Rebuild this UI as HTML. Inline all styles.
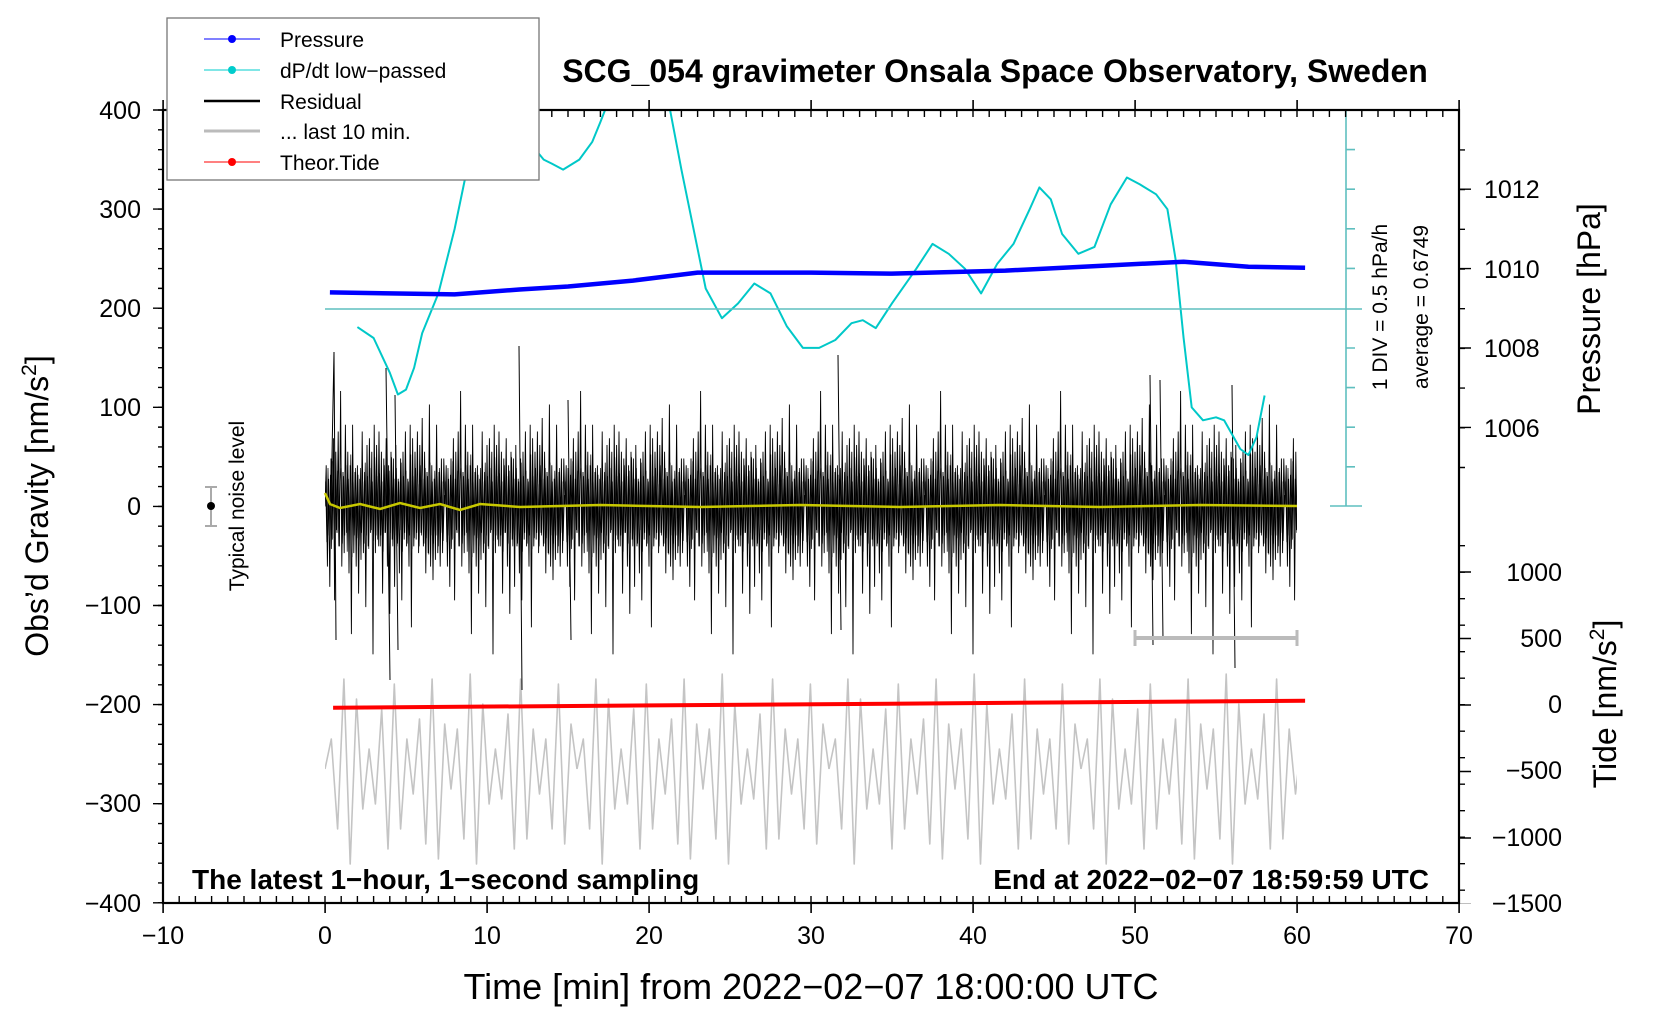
<!DOCTYPE html>
<html><head><meta charset="utf-8"><style>
html,body{margin:0;padding:0;background:#fff}
svg{display:block;font-family:"Liberation Sans",sans-serif}
</style></head><body>
<svg width="1660" height="1020" viewBox="0 0 1660 1020" xmlns="http://www.w3.org/2000/svg">
<defs>
<clipPath id="c"><rect x="163" y="110" width="1296" height="793"/></clipPath>
<pattern id="noise" patternUnits="userSpaceOnUse" x="325" y="348" width="120" height="317" patternTransform="matrix(1 0 0 1.35 0 -177.3)">
<polyline fill="none" stroke="#000" stroke-width="0.9" points="0,158.5 1.2,128 2.4,203 3.6,138 4.8,218 6,123 7.2,183 8.4,108 9.6,228 10.8,118 12,178 13.2,103 14.4,188 15.6,73 16.8,203 18,133 19.2,193 20.4,98 21.6,178 22.8,118 24,208 25.2,128 26.4,253 27.6,98 28.8,193 30,133 31.2,203 32.4,128 33.6,223 34.8,138 36,198 37.2,103 38.4,193 39.6,133 40.8,233 42,113 43.2,188 44.4,108 45.6,178 46.8,118 48,268 49.2,98 50.4,193 51.6,113 52.8,183 54,103 55.2,188 56.4,118 57.6,223 58.8,123 60,178 61.2,108 62.4,203 63.6,128 64.8,238 66,118 67.2,183 68.4,123 69.6,218 70.8,113 72,188 73.2,138 74.4,208 75.6,123 76.8,228 78,118 79.2,183 80.4,103 81.6,188 82.8,138 84,203 85.2,98 86.4,248 87.6,108 88.8,188 90,118 91.2,183 92.4,103 93.6,193 94.8,113 96,178 97.2,93 98.4,188 99.6,118 100.8,208 102,133 103.2,193 104.4,83 105.6,203 106.8,128 108,213 109.2,138 110.4,198 111.6,98 112.8,193 114,133 115.2,203 116.4,123 117.6,193 118.8,123 120,158.5"/>
<polyline fill="none" stroke="#000" stroke-width="0.7" points="0.6,140 1.8,185 3,130 4.2,180 5.4,135 6.6,190 7.8,125 9,182 10.2,138 11.4,176 12.6,132 13.8,188 15,140 16.2,130 17.4,186 18.6,136 19.8,180 21,128 22.2,192 23.4,138 24.6,176 25.8,120 27,196 28.2,140 29.4,180 30.6,130 31.8,182 33,135 34.2,188 35.4,130 36.6,178 37.8,140 39,186 40.2,126 41.4,180 42.6,136 43.8,190 45,130 46.2,176 47.4,140 48.6,184 49.8,122 51,180 52.2,136 53.4,188 54.6,134 55.8,180 57,140 58.2,192 59.4,128 60.6,178 61.8,136 63,186 64.2,132 65.4,178 66.6,122 67.8,188 69,138 70.2,180 71.4,130 72.6,186 73.8,140 75,176 76.2,126 77.4,192 78.6,136 79.8,178 81,132 82.2,186 83.4,140 84.6,180 85.8,120 87,190 88.2,136 89.4,182 90.6,130 91.8,178 93,142 94.2,188 95.4,128 96.6,180 97.8,138 99,186 100.2,130 101.4,182 102.6,136 103.8,194 105,126 106.2,180 107.4,140 108.6,186 109.8,132 111,180 112.2,136 113.4,188 114.6,130 115.8,178 117,140 118.2,184 119.4,150"/>
</pattern>
<pattern id="tide" patternUnits="userSpaceOnUse" x="325" y="660" width="252" height="230">
<polyline fill="none" stroke="#c4c4c4" stroke-width="1.6" stroke-linejoin="round" points="0,109 6.3,79 12.6,169 18.9,19 25.2,204 31.5,39 37.8,149 44.1,89 50.4,144 56.7,49 63,189 69.3,24 75.6,169 81.9,79 88.2,134 94.5,59 100.8,184 107.1,19 113.4,199 119.7,64 126,129 132.3,69 138.9,179 145.2,14 151.5,204 157.8,44 164.1,144 170.4,89 176.7,139 183,54 189.3,189 195.6,19 201.9,179 208.2,69 214.5,134 220.8,79 227.1,169 233.4,24 239.7,184 246,64 252,109"/>
</pattern>
</defs>
<rect width="1660" height="1020" fill="#fff"/>
<g clip-path="url(#c)">
<rect x="325" y="660" width="972" height="230" fill="url(#tide)"/>
<rect x="325" y="293" width="972" height="427" fill="url(#noise)"/>
<path fill="none" stroke="#000" stroke-width="1" d="M331,506 L334,352 L336,640 M386,368 L390,680 M395,395 L398,650 M519,346 L522,690 M568,400 L571,640 M838,355 L841,630 M1150,375 L1153,645 M1232,385 L1235,668 M1160,380 L1163,640"/>
<polyline fill="none" stroke="#c8c800" stroke-width="2.5" points="325,493 330,504 340,508 360,504 380,509 400,503 420,508 440,504 460,510 480,504 520,507 600,505 700,507 800,505 900,507 1000,505 1100,507 1200,505 1297,506"/>
<polyline fill="none" stroke="#00c8c8" stroke-width="2" stroke-linejoin="round" points="357.4,327.1 373.6,338 389.8,372.7 397.9,394.5 406,389.6 414.1,367.8 422.2,333.1 438.4,293.4 454.6,229 465.9,174.5 475.7,90.3 495.1,40.7 519.4,70.5 535.6,149.7 543.7,159.6 551.8,163.6 563.1,169.6 579.3,159.6 592.3,141.8 600.4,122 616.6,80.4 649,50.6 670.1,110.1 681.4,169.6 689.5,209.2 705.7,288.5 721.9,318.2 738.1,303.4 754.3,283.5 770.5,293.4 786.7,326.1 802.9,347.9 819.1,347.9 835.3,340 851.5,323.2 862.8,320.2 875.8,328.1 892,303.3 916.3,268.7 932.5,243.9 948.7,253.8 964.9,268.7 981.1,293.4 997.3,263.7 1013.5,243.9 1029.7,209.2 1039.4,187.4 1050.8,199.3 1062.1,234 1078.3,253.8 1094.5,246.9 1110.7,204.3 1126.9,177.5 1139.9,184.4 1156.1,194.3 1167.4,209.2 1175.5,258.8 1183.6,338 1191.7,407.4 1203,420.3 1216,417.3 1224.1,420.3 1240.3,449 1248.4,455 1256.5,437.1 1264.6,395.5"/>
<polyline fill="none" stroke="#0000ff" stroke-width="4.5" stroke-linejoin="round" points="329.9,292.4 389.8,293.4 454.6,294.4 519.4,289.5 568,286.5 632.8,280.6 697.6,272.6 811,272.6 892,273.6 1005.4,270.6 1102.6,265.7 1183.6,261.7 1248.4,266.7 1305.1,267.7"/>
<line x1="333.1" y1="707.7" x2="1305.1" y2="700.7" stroke="#f00" stroke-width="4"/>
</g>
<g stroke="#5fbfbf" stroke-width="1.6" fill="none">
<line x1="1346" y1="110" x2="1346" y2="506"/>
<line x1="1330" y1="110" x2="1362" y2="110"/>
<line x1="1330" y1="506" x2="1362" y2="506"/>
<line x1="325" y1="309" x2="1362" y2="309"/>
<path d="M1346,149.6h9M1346,189.2h9M1346,228.8h9M1346,268.4h9M1346,348h9M1346,387.6h9M1346,427.2h9M1346,466.8h9"/>
</g>
<g fill="none" stroke="#000">
<rect x="163" y="110" width="1296" height="793" stroke-width="2.2"/>
<line x1="162.3" y1="899.5" x2="1460" y2="899.5" stroke-width="7" stroke-dasharray="1.4 14.8"/>
<line x1="162.3" y1="113.5" x2="1460" y2="113.5" stroke-width="7" stroke-dasharray="1.4 14.8"/>
<line x1="162.3" y1="908" x2="1460" y2="908" stroke-width="10" stroke-dasharray="1.6 160.4"/>
<line x1="162.3" y1="105" x2="1460" y2="105" stroke-width="10" stroke-dasharray="1.6 160.4"/>
<line x1="160.5" y1="109.3" x2="160.5" y2="904" stroke-width="5" stroke-dasharray="1.4 18.42"/>
<line x1="158" y1="109.3" x2="158" y2="904" stroke-width="10" stroke-dasharray="1.4 97.7"/>
<line x1="1462" y1="149.2" x2="1462" y2="470" stroke-width="6" stroke-dasharray="1.4 38.3"/>
<line x1="1465" y1="188.5" x2="1465" y2="430" stroke-width="12" stroke-dasharray="1.4 78"/>
<line x1="1462" y1="545" x2="1462" y2="904" stroke-width="6" stroke-dasharray="1.4 25.1"/>
<line x1="1465" y1="571.3" x2="1465" y2="904" stroke-width="12" stroke-dasharray="1.4 65.1"/>
</g>
<g font-size="25" fill="#000">
<g text-anchor="middle">
<text x="163" y="944">−10</text><text x="325" y="944">0</text><text x="487" y="944">10</text><text x="649" y="944">20</text><text x="811" y="944">30</text><text x="973" y="944">40</text><text x="1135" y="944">50</text><text x="1297" y="944">60</text><text x="1459" y="944">70</text>
</g>
<g text-anchor="end">
<text x="141" y="119">400</text><text x="141" y="218">300</text><text x="141" y="317">200</text><text x="141" y="416">100</text><text x="141" y="515">0</text><text x="141" y="614">−100</text><text x="141" y="713">−200</text><text x="141" y="812">−300</text><text x="141" y="912">−400</text>
<text x="1562" y="581">1000</text><text x="1562" y="647">500</text><text x="1562" y="713">0</text><text x="1562" y="779">−500</text><text x="1562" y="846">−1000</text><text x="1562" y="912">−1500</text>
</g>
<text x="1484" y="198">1012</text><text x="1484" y="278">1010</text><text x="1484" y="357">1008</text><text x="1484" y="437">1006</text>
</g>
<text transform="translate(1387,307) rotate(-90)" text-anchor="middle" font-size="21">1 DIV = 0.5 hPa/h</text>
<text transform="translate(1428,307) rotate(-90)" text-anchor="middle" font-size="21">average = 0.6749</text>
<text x="995" y="82" text-anchor="middle" font-size="32" font-weight="bold">SCG_054 gravimeter Onsala Space Observatory, Sweden</text>
<text x="192" y="889" font-size="28" font-weight="bold">The latest 1−hour, 1−second sampling</text>
<text x="1429" y="889" text-anchor="end" font-size="28" font-weight="bold">End at 2022−02−07 18:59:59 UTC</text>
<text x="811" y="999" text-anchor="middle" font-size="36">Time [min] from 2022−02−07 18:00:00 UTC</text>
<text transform="translate(48,506) rotate(-90)" text-anchor="middle" font-size="32">Obs’d Gravity [nm/s<tspan font-size="21" dy="-12">2</tspan><tspan dy="12">]</tspan></text>
<text transform="translate(1600,309) rotate(-90)" text-anchor="middle" font-size="32">Pressure [hPa]</text>
<text transform="translate(1616,704) rotate(-90)" text-anchor="middle" font-size="32">Tide [nm/s<tspan font-size="21" dy="-12">2</tspan><tspan dy="12">]</tspan></text>
<text transform="translate(244,506) rotate(-90)" text-anchor="middle" font-size="21">Typical noise level</text>
<g stroke="#aaa" stroke-width="2"><line x1="211" y1="487" x2="211" y2="526"/><line x1="205" y1="487" x2="217" y2="487"/><line x1="205" y1="526" x2="217" y2="526"/></g>
<circle cx="211" cy="506" r="4" fill="#000"/>
<g stroke="#bbb"><line x1="1135" y1="638" x2="1297" y2="638" stroke-width="4"/><line x1="1135" y1="630" x2="1135" y2="646" stroke-width="3"/><line x1="1297" y1="630" x2="1297" y2="646" stroke-width="3"/></g>
<rect x="167" y="18" width="372" height="162" fill="#fff" stroke="#777" stroke-width="1.3"/>
<g font-size="21">
<line x1="204" y1="39" x2="260" y2="39" stroke="#00f" stroke-width="1"/><circle cx="232" cy="39" r="4" fill="#00f"/><text x="280" y="47">Pressure</text>
<line x1="204" y1="70" x2="260" y2="70" stroke="#00cccc" stroke-width="1"/><circle cx="232" cy="70" r="4" fill="#00cccc"/><text x="280" y="78">dP/dt low−passed</text>
<line x1="204" y1="101" x2="260" y2="101" stroke="#000" stroke-width="2.5"/><text x="280" y="109">Residual</text>
<line x1="204" y1="131" x2="260" y2="131" stroke="#bbb" stroke-width="3"/><text x="280" y="139">... last 10 min.</text>
<line x1="204" y1="162" x2="260" y2="162" stroke="#f00" stroke-width="1"/><circle cx="232" cy="162" r="4" fill="#f00"/><text x="280" y="170">Theor.Tide</text>
</g>
</svg>
</body></html>
